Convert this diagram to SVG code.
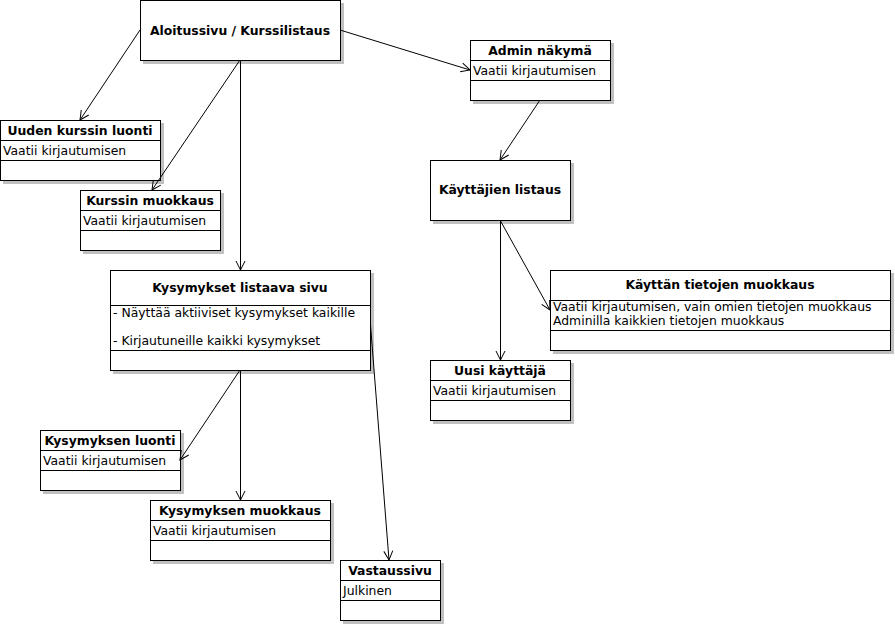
<svg xmlns="http://www.w3.org/2000/svg" width="895" height="625" viewBox="0 0 895 625">
<defs>
<marker id="arr" markerUnits="userSpaceOnUse" markerWidth="12" markerHeight="12" viewBox="-10 -6 12 12" refX="0" refY="0" orient="auto">
<path d="M-9,-4.5 L0,0 L-9,4.5" fill="none" stroke="#000" stroke-width="1"/>
</marker>
</defs>
<style>
.sh{fill:#c0c0c0;stroke:none}
.bx{fill:#fff;stroke:#000;stroke-width:1}
.sep{stroke:#000;stroke-width:1}
.t{font-family:"DejaVu Sans","Liberation Sans",sans-serif;font-size:12.4px;font-weight:bold;text-anchor:middle;fill:#000}
.a{font-family:"DejaVu Sans","Liberation Sans",sans-serif;font-size:12.4px;fill:#000}
.c{fill:none;stroke:#000;stroke-width:1;marker-end:url(#arr)}
</style>
<rect width="895" height="625" fill="#fff"/>

<g id="aloitussivu">
<rect class="sh" x="143" y="3" width="201" height="61"/>
<rect class="bx" x="140.5" y="0.5" width="200" height="60"/>
<text class="t" x="240" y="35">Aloitussivu / Kurssilistaus</text>
</g>

<g id="uuden-kurssin-luonti">
<rect class="sh" x="3" y="123" width="161" height="61"/>
<rect class="bx" x="0.5" y="120.5" width="160" height="60"/>
<line class="sep" x1="0.5" y1="140.5" x2="160.5" y2="140.5"/>
<line class="sep" x1="0.5" y1="160.5" x2="160.5" y2="160.5"/>
<text class="t" x="80" y="135">Uuden kurssin luonti</text>
<text class="a" x="3" y="155">Vaatii kirjautumisen</text>
</g>

<g id="kurssin-muokkaus">
<rect class="sh" x="83" y="193" width="141" height="61"/>
<rect class="bx" x="80.5" y="190.5" width="140" height="60"/>
<line class="sep" x1="80.5" y1="210.5" x2="220.5" y2="210.5"/>
<line class="sep" x1="80.5" y1="230.5" x2="220.5" y2="230.5"/>
<text class="t" x="150" y="205">Kurssin muokkaus</text>
<text class="a" x="83" y="225">Vaatii kirjautumisen</text>
</g>

<g id="admin-nakyma">
<rect class="sh" x="473" y="43" width="141" height="61"/>
<rect class="bx" x="470.5" y="40.5" width="140" height="60"/>
<line class="sep" x1="470.5" y1="60.5" x2="610.5" y2="60.5"/>
<line class="sep" x1="470.5" y1="80.5" x2="610.5" y2="80.5"/>
<text class="t" x="540" y="55">Admin näkymä</text>
<text class="a" x="473" y="75">Vaatii kirjautumisen</text>
</g>

<g id="kayttajien-listaus">
<rect class="sh" x="433" y="163" width="141" height="61"/>
<rect class="bx" x="430.5" y="160.5" width="140" height="60"/>
<text class="t" x="500" y="194">Käyttäjien listaus</text>
</g>

<g id="kayttan-tietojen-muokkaus">
<rect class="sh" x="553" y="273" width="341" height="81"/>
<rect class="bx" x="550.5" y="270.5" width="340" height="80"/>
<line class="sep" x1="550.5" y1="300.5" x2="890.5" y2="300.5"/>
<line class="sep" x1="550.5" y1="330.5" x2="890.5" y2="330.5"/>
<text class="t" x="720" y="289">Käyttän tietojen muokkaus</text>
<text class="a" x="553" y="311">Vaatii kirjautumisen, vain omien tietojen muokkaus</text>
<text class="a" x="553" y="325">Adminilla kaikkien tietojen muokkaus</text>
</g>

<g id="uusi-kayttaja">
<rect class="sh" x="433" y="363" width="141" height="61"/>
<rect class="bx" x="430.5" y="360.5" width="140" height="60"/>
<line class="sep" x1="430.5" y1="380.5" x2="570.5" y2="380.5"/>
<line class="sep" x1="430.5" y1="400.5" x2="570.5" y2="400.5"/>
<text class="t" x="500" y="375">Uusi käyttäjä</text>
<text class="a" x="433" y="395">Vaatii kirjautumisen</text>
</g>

<g id="kysymykset-listaava-sivu">
<rect class="sh" x="113" y="273" width="261" height="101"/>
<rect class="bx" x="110.5" y="270.5" width="260" height="100"/>
<line class="sep" x1="110.5" y1="305.5" x2="370.5" y2="305.5"/>
<line class="sep" x1="110.5" y1="350.5" x2="370.5" y2="350.5"/>
<text class="t" x="240" y="292">Kysymykset listaava sivu</text>
<text class="a" x="113" y="317">- Näyttää aktiiviset kysymykset kaikille</text>
<text class="a" x="113" y="345">- Kirjautuneille kaikki kysymykset</text>
</g>

<g id="kysymyksen-luonti">
<rect class="sh" x="43" y="433" width="141" height="61"/>
<rect class="bx" x="40.5" y="430.5" width="140" height="60"/>
<line class="sep" x1="40.5" y1="450.5" x2="180.5" y2="450.5"/>
<line class="sep" x1="40.5" y1="470.5" x2="180.5" y2="470.5"/>
<text class="t" x="110" y="445">Kysymyksen luonti</text>
<text class="a" x="43" y="465">Vaatii kirjautumisen</text>
</g>

<g id="kysymyksen-muokkaus">
<rect class="sh" x="153" y="503" width="181" height="61"/>
<rect class="bx" x="150.5" y="500.5" width="180" height="60"/>
<line class="sep" x1="150.5" y1="520.5" x2="330.5" y2="520.5"/>
<line class="sep" x1="150.5" y1="540.5" x2="330.5" y2="540.5"/>
<text class="t" x="240" y="515">Kysymyksen muokkaus</text>
<text class="a" x="153" y="535">Vaatii kirjautumisen</text>
</g>

<g id="vastaussivu">
<rect class="sh" x="343" y="563" width="101" height="61"/>
<rect class="bx" x="340.5" y="560.5" width="100" height="60"/>
<line class="sep" x1="340.5" y1="580.5" x2="440.5" y2="580.5"/>
<line class="sep" x1="340.5" y1="600.5" x2="440.5" y2="600.5"/>
<text class="t" x="390" y="575">Vastaussivu</text>
<text class="a" x="343" y="595">Julkinen</text>
</g>

<g id="connectors">
<line class="c" x1="140" y1="30" x2="80" y2="120"/>
<line class="c" x1="240" y1="60" x2="152" y2="190"/>
<line class="c" x1="240.5" y1="60" x2="240.5" y2="270"/>
<line class="c" x1="340" y1="30" x2="470" y2="70"/>
<line class="c" x1="540" y1="100" x2="500" y2="160"/>
<line class="c" x1="500" y1="220" x2="550" y2="310"/>
<line class="c" x1="500.5" y1="220" x2="500.5" y2="360"/>
<line class="c" x1="240" y1="370" x2="180" y2="460"/>
<line class="c" x1="240.5" y1="370" x2="240.5" y2="500"/>
<line class="c" x1="370.5" y1="325" x2="389" y2="560"/>
</g>
</svg>
